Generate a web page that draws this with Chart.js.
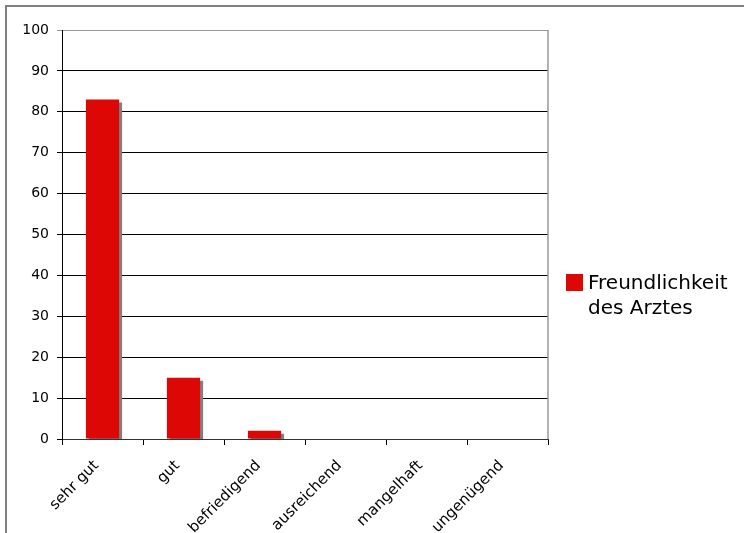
<!DOCTYPE html>
<html>
<head>
<meta charset="utf-8">
<script src="https://cdn.jsdelivr.net/npm/chart.js@4/dist/chart.umd.min.js"></script>
<style>
	body { margin: 0; background: #fff; }
	#rahmen { position: absolute; left: 5px; top: 5px; width: 800px; height: 600px; border: 2px solid #808080; }
	#wrap { position: absolute; left: 0; top: 0; width: 744px; height: 533px; }
	#legende { position: absolute; left: 566px; top: 270px; font-family: "DejaVu Sans", Verdana, sans-serif; font-size: 20px; line-height: 25px; color: #000; }
	#legende .box { position: absolute; left: 0; top: 4px; width: 17px; height: 17px; background: #dd0806; }
	#legende .txt { margin-left: 22px; }
</style>
</head>
<body>
<div id="rahmen"></div>
<div id="wrap"><canvas id="chart" width="744" height="533"></canvas></div>
<div id="legende"><div class="box"></div><div class="txt">Freundlichkeit<br>des Arztes</div></div>
<script>
var kategorien = ['sehr gut', 'gut', 'befriedigend', 'ausreichend', 'mangelhaft', 'ungenügend'];
var werte = [83, 15, 2, 0, 0, 0];
var serie = 'Freundlichkeit des Arztes';
var yMin = 0, yMax = 100, ySchritt = 10;

// schatten hinter den balken
var schatten = {
	id: 'schatten',
	beforeDatasetsDraw: function(chart){
		var ctx = chart.ctx;
		ctx.save();
		ctx.shadowColor = '#808080';
		ctx.shadowOffsetX = 3;
		ctx.shadowOffsetY = 3;
		ctx.shadowBlur = 0;
	},
	afterDatasetsDraw: function(chart){
		chart.ctx.restore();
	}
};

// rechter rand der zeichenflaeche
var rand = {
	id: 'rand',
	afterDraw: function(chart){
		var a = chart.chartArea;
		var ctx = chart.ctx;
		ctx.save();
		ctx.strokeStyle = '#999999';
		ctx.lineWidth = 1.5;
		ctx.beginPath();
		ctx.moveTo(a.right, a.top);
		ctx.lineTo(a.right, a.bottom);
		ctx.stroke();
		ctx.restore();
	}
};

var ctx = document.getElementById('chart');
var grafico = new Chart(ctx, {
	type: 'bar',
	data: {
		labels: kategorien,
		datasets: [{
			label: serie,
			data: werte,
			backgroundColor: '#dd0806',
			borderWidth: 0,
			barPercentage: 0.41,
			categoryPercentage: 1
		}]
	},
	plugins: [schatten, rand],
	options: {
		responsive: false,
		animation: false,
		layout: { padding: { top: 30, right: 196, left: 0, bottom: 0 } },
		plugins: { legend: { display: false }, tooltip: { enabled: false } },
		scales: {
			x: {
				offset: true,
				afterFit: function(s){ s.height = 94; },
				grid: { offset: true, drawOnChartArea: false, tickLength: 6, color: '#000' },
				border: { color: '#333', width: 1 },
				ticks: {
					minRotation: 45, maxRotation: 45, padding: 12, labelOffset: -6,
					color: '#000',
					font: { family: '"DejaVu Sans", Verdana, sans-serif', size: 15 }
				}
			},
			y: {
				min: yMin, max: yMax,
				afterFit: function(s){ s.width = 62; },
				grid: {
					tickLength: 5,
					color: function(c){ return c.tick && c.tick.value === yMax ? '#999999' : '#000'; }
				},
				border: { color: '#000', width: 1 },
				ticks: {
					stepSize: ySchritt, padding: 8,
					color: '#000',
					font: { family: '"DejaVu Sans", Verdana, sans-serif', size: 14 }
				}
			}
		}
	}
});
</script>
</body>
</html>
